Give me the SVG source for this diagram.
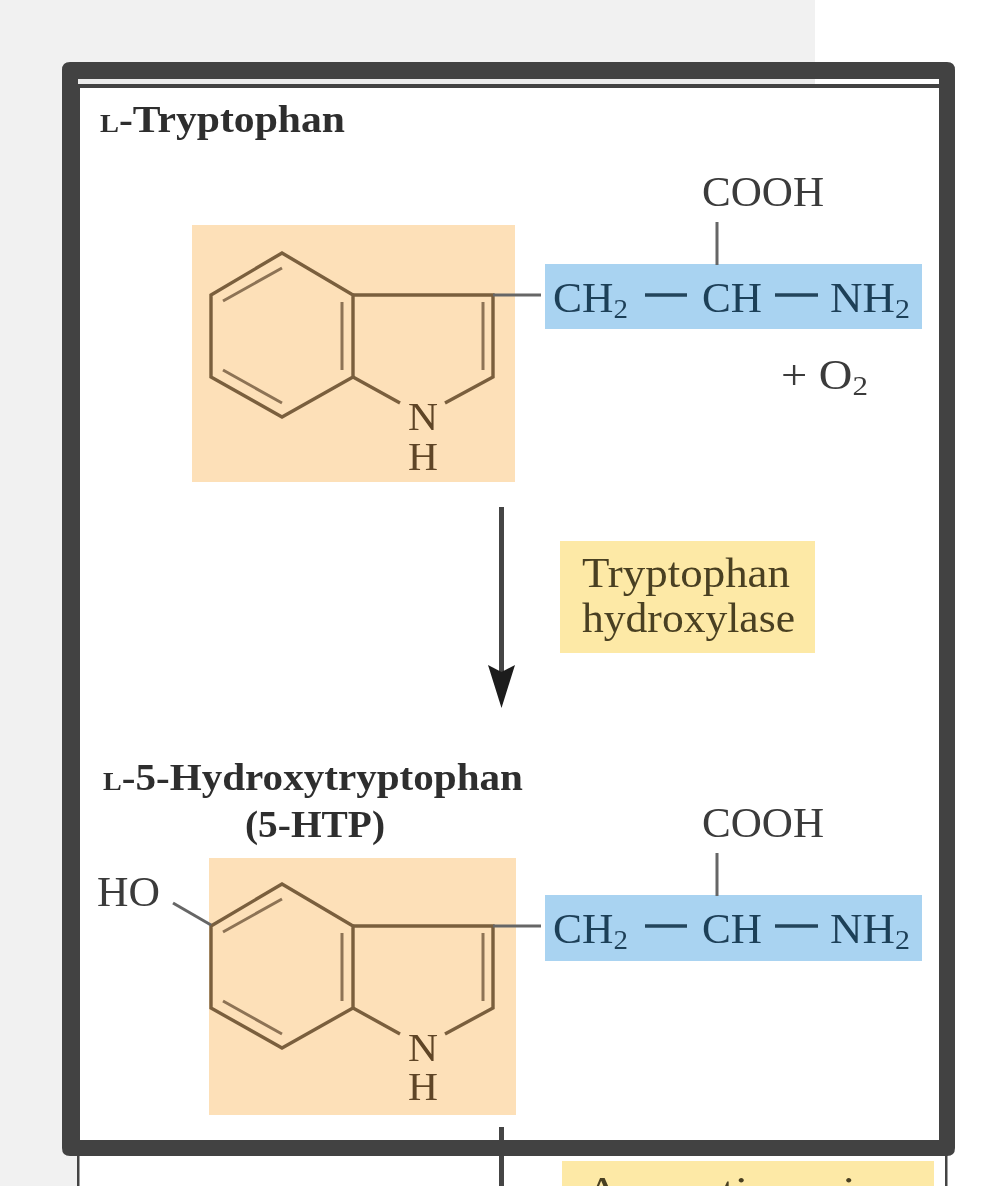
<svg xmlns="http://www.w3.org/2000/svg" width="1000" height="1186" viewBox="0 0 1000 1186">
<style>
text{font-family:"Liberation Serif","Times New Roman",serif;font-size:42px;fill:#3a3a3a}
.b{font-weight:bold;fill:#2e2e2e;font-size:38px}
.sc{font-size:26px}
.sub{font-size:28px}
.blue{fill:#1f3f58}
.br{fill:#5f4526;font-size:39px}
.yt{fill:#4a3f20}
.or{fill:#fde0b8}
.bl{fill:#a9d3f1}
.ye{fill:#fde9a6}
.ring{fill:none;stroke:#7a5f3e;stroke-width:3.4;stroke-linejoin:miter}
.ring2{fill:none;stroke:#8d7355;stroke-width:3}
.bond{stroke:#666;stroke-width:3;fill:none}
.dash{stroke:#24445c;stroke-width:3.4;fill:none}
.arrow{stroke:#444;stroke-width:5;fill:none}
</style>
<defs>
<filter id="soft" x="-5%" y="-5%" width="110%" height="110%"><feGaussianBlur stdDeviation="0.7"/></filter>
<g id="indole">
<path class="ring" d="M211 295L282 253L353 295L353 377L282 417L211 377Z"/>
<path class="ring" d="M353 295H493V377L445 403M353 377L400 403"/>
<path class="ring2" d="M223 301L282 268M223 370L282 403M342 302V370M483 302V370"/>
</g>
<g id="sidechain">
<path class="bond" d="M493 295H541M717 222V265"/>
<path class="dash" d="M645 295H687M775 295H818"/>
</g>
</defs>
<rect x="0" y="0" width="1000" height="1186" fill="#fff"/>
<rect x="0" y="0" width="815" height="1186" fill="#f1f1f1"/>
<rect x="78" y="79" width="868" height="1107" fill="#fff"/>
<rect x="78" y="79" width="737" height="6" fill="#ebebeb"/>
<rect x="77" y="1150" width="2.500" height="36" fill="#444"/>
<rect x="945" y="1150" width="2.500" height="36" fill="#444"/>

<g id="connectors" filter="url(#soft)">
<g id="arrow-1">
<path class="arrow" d="M501.500 507V672"/>
<path d="M488 665L501.500 672L515 665L501.500 708Z" fill="#1c1c1c"/>
</g>
<path id="arrow-2" class="arrow" d="M501.500 1127V1186"/>
</g>

<g id="tryptophan" filter="url(#soft)">
<text class="b" x="100" y="132" textLength="245" lengthAdjust="spacingAndGlyphs"><tspan class="sc">L</tspan>-Tryptophan</text>
<rect class="or" x="192" y="225" width="323" height="257"/>
<rect class="bl" x="545" y="264" width="377" height="65"/>
<use href="#indole"/>
<use href="#sidechain"/>
<text class="br" x="408" y="430" textLength="30" lengthAdjust="spacingAndGlyphs">N</text>
<text class="br" x="408" y="470" textLength="30" lengthAdjust="spacingAndGlyphs">H</text>
<text x="702" y="206" textLength="122" lengthAdjust="spacingAndGlyphs">COOH</text>
<text class="blue" x="553" y="312" textLength="75" lengthAdjust="spacingAndGlyphs">CH<tspan class="sub" dy="6">2</tspan></text>
<text class="blue" x="702" y="312" textLength="60" lengthAdjust="spacingAndGlyphs">CH</text>
<text class="blue" x="830" y="312" textLength="80" lengthAdjust="spacingAndGlyphs">NH<tspan class="sub" dy="6">2</tspan></text>
<text x="781" y="389" textLength="87" lengthAdjust="spacingAndGlyphs" xml:space="preserve">+ O<tspan class="sub" dy="6">2</tspan></text>
</g>

<g id="enzyme-1" filter="url(#soft)">
<rect class="ye" x="560" y="541" width="255" height="112"/>
<text class="yt" x="582" y="587" textLength="208" lengthAdjust="spacingAndGlyphs">Tryptophan</text>
<text class="yt" x="582" y="632" textLength="213" lengthAdjust="spacingAndGlyphs">hydroxylase</text>
</g>

<g id="hydroxytryptophan" filter="url(#soft)">
<text class="b" x="103" y="790" textLength="420" lengthAdjust="spacingAndGlyphs"><tspan class="sc">L</tspan>-5-Hydroxytryptophan</text>
<text class="b" x="245" y="837" textLength="140" lengthAdjust="spacingAndGlyphs">(5-HTP)</text>
<rect class="or" x="209" y="858" width="307" height="257"/>
<rect class="bl" x="545" y="895" width="377" height="66"/>
<g transform="translate(0 631)"><use href="#indole"/><use href="#sidechain"/></g>
<path class="bond" d="M173 903L211 925"/>
<text x="97" y="906" textLength="63" lengthAdjust="spacingAndGlyphs">HO</text>
<text class="br" x="408" y="1061" textLength="30" lengthAdjust="spacingAndGlyphs">N</text>
<text class="br" x="408" y="1100" textLength="30" lengthAdjust="spacingAndGlyphs">H</text>
<text x="702" y="837" textLength="122" lengthAdjust="spacingAndGlyphs">COOH</text>
<text class="blue" x="553" y="943" textLength="75" lengthAdjust="spacingAndGlyphs">CH<tspan class="sub" dy="6">2</tspan></text>
<text class="blue" x="702" y="943" textLength="60" lengthAdjust="spacingAndGlyphs">CH</text>
<text class="blue" x="830" y="943" textLength="80" lengthAdjust="spacingAndGlyphs">NH<tspan class="sub" dy="6">2</tspan></text>
</g>

<g id="enzyme-2" filter="url(#soft)">
<rect class="ye" x="562" y="1161" width="372" height="30"/>
<text class="yt" x="585" y="1206" textLength="320" lengthAdjust="spacingAndGlyphs">Aromatic amino</text>
</g>

<g id="frame" fill="#424242">
<path fill-rule="evenodd" d="M70 62H947Q955 62 955 70V1148Q955 1156 947 1156H70Q62 1156 62 1148V70Q62 62 70 62ZM80 88V1140H939V88Z"/>
<rect x="78" y="79" width="861" height="5" fill="#ebebeb"/>
<rect x="815" y="79" width="124" height="5" fill="#fff"/>
</g>
</svg>
